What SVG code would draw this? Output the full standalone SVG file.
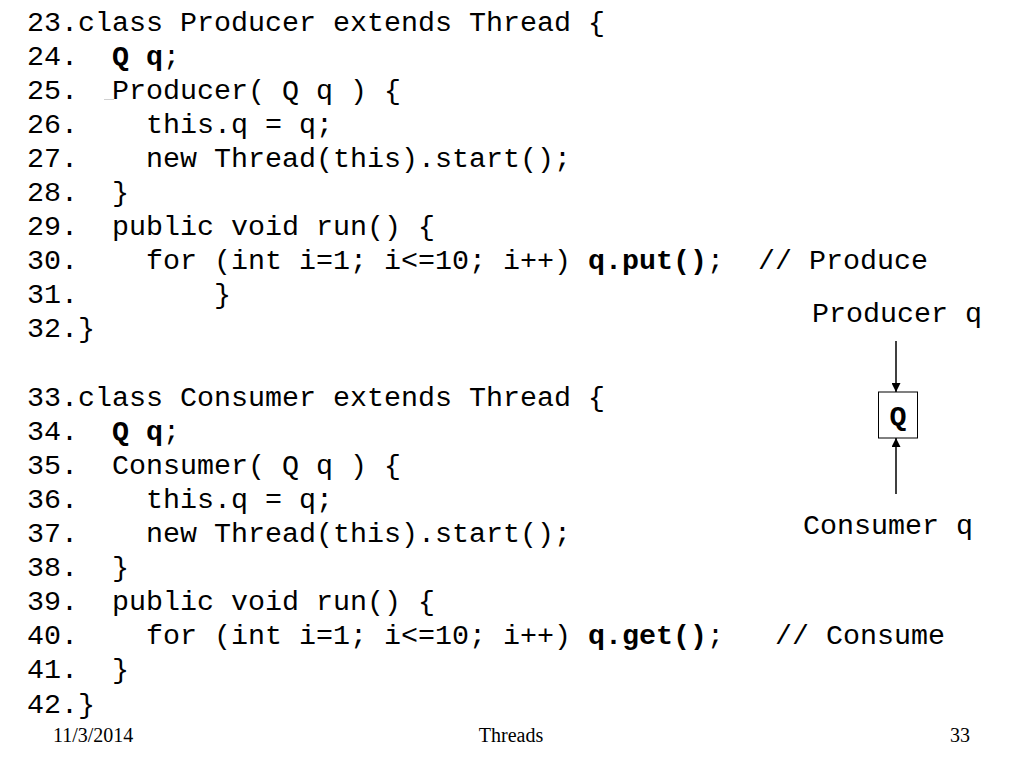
<svg xmlns="http://www.w3.org/2000/svg" width="1024" height="768" viewBox="0 0 1024 768">
<defs>
<style>
.code{font-family:"Liberation Mono","Courier New",monospace;font-size:28.33px;fill:#000;white-space:pre}
.b{font-weight:bold}
.foot{font-family:"Liberation Serif","Times New Roman",serif;font-size:20px;fill:#000}
.conn{stroke:#000;stroke-width:1.5;fill:none}
</style>
<marker id="ah" viewBox="0 0 10 10" refX="10" refY="5" markerWidth="9" markerHeight="9" markerUnits="userSpaceOnUse" orient="auto">
<path d="M0,0 L10,5 L0,10 z" fill="#000"/>
</marker>
</defs>
<rect width="1024" height="768" fill="#fff"/>
<g id="code" xml:space="preserve">
<text class="code" x="27" y="30.5">23.class Producer extends Thread {</text>
<text class="code" x="27" y="64.6">24.  <tspan class="b">Q q</tspan>;</text>
<text class="code" x="27" y="98.7">25.  Producer( Q q ) {</text>
<text class="code" x="27" y="132.8">26.    this.q = q;</text>
<text class="code" x="27" y="166.9">27.    new Thread(this).start();</text>
<text class="code" x="27" y="201">28.  }</text>
<text class="code" x="27" y="235.1">29.  public void run() {</text>
<text class="code" x="27" y="269.2">30.    for (int i=1; i&lt;=10; i++) <tspan class="b">q.put()</tspan>;  // Produce</text>
<text class="code" x="27" y="303.3">31.        }</text>
<text class="code" x="27" y="337.4">32.}</text>
<text class="code" x="27" y="405.6">33.class Consumer extends Thread {</text>
<text class="code" x="27" y="439.7">34.  <tspan class="b">Q q</tspan>;</text>
<text class="code" x="27" y="473.8">35.  Consumer( Q q ) {</text>
<text class="code" x="27" y="507.9">36.    this.q = q;</text>
<text class="code" x="27" y="542">37.    new Thread(this).start();</text>
<text class="code" x="27" y="576.1">38.  }</text>
<text class="code" x="27" y="610.2">39.  public void run() {</text>
<text class="code" x="27" y="644.3">40.    for (int i=1; i&lt;=10; i++) <tspan class="b">q.get()</tspan>;   // Consume</text>
<text class="code" x="27" y="678.4">41.  }</text>
<text class="code" x="27" y="712.5">42.}</text>
</g>
<line x1="104" y1="99.5" x2="114" y2="99.5" stroke="#d0d0d0" stroke-width="1"/>
<g id="producer">
<text class="code" x="812" y="321.5">Producer q</text>
</g>
<g id="queue">
<rect x="878.5" y="392" width="39" height="46" fill="#fff" stroke="#000" stroke-width="1"/>
<text class="code b" x="898" y="425" text-anchor="middle">Q</text>
</g>
<g id="consumer">
<text class="code" x="803" y="534">Consumer q</text>
</g>
<g id="connectors">
<line class="conn" x1="896" y1="341" x2="896" y2="392" marker-end="url(#ah)"/>
<line class="conn" x1="896" y1="494" x2="896" y2="438" marker-end="url(#ah)"/>
</g>
<g id="footer">
<text class="foot" x="53" y="741.5">11/3/2014</text>
<text class="foot" x="511" y="741.5" text-anchor="middle">Threads</text>
<text class="foot" x="950" y="741.5">33</text>
</g>
</svg>
